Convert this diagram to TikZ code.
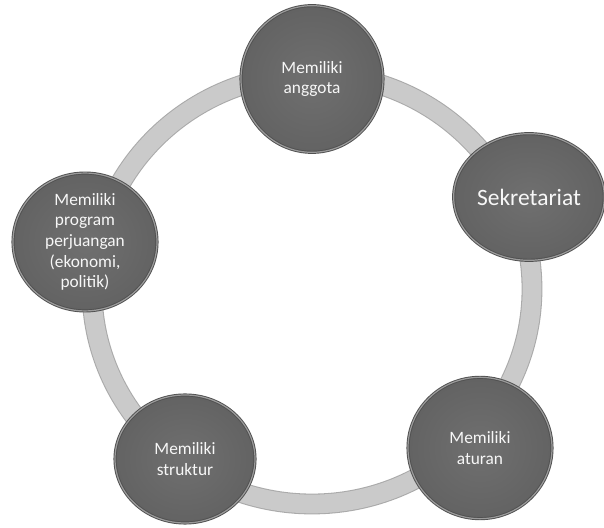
\documentclass[tikz,border=0pt]{standalone}
\usepackage{fontspec}
\setmainfont{Carlito}
\usepackage{xcolor}
\usetikzlibrary{shapes.geometric}

\definecolor{ringfill}{RGB}{202,202,202}
\definecolor{ringedge}{RGB}{170,170,170}
\definecolor{bubblefill}{RGB}{104,104,104}
\definecolor{bubbleedge}{RGB}{80,80,80}
\definecolor{bubblerim}{RGB}{155,155,155}

\begin{document}
\begin{tikzpicture}[x=0.75pt, y=0.75pt,
    bubble/.style={ellipse, inner sep=0pt, align=center, text=white!94!gray,
        inner color=bubblefill!95!white, outer color=bubblefill!95!black,
        draw=bubbleedge, line width=0.7pt, double=bubblerim, double distance=0.9pt,
        font=\fontsize{13}{15.5}\selectfont}]
    \useasboundingbox (0,0) rectangle (604,528);
    % ring behind the bubbles
    \coordinate (hub) at (312,239);
    \draw[ringedge, line width=15.6pt] (hub) ellipse [x radius=220, y radius=215];
    \draw[ringfill, line width=14pt] (hub) ellipse [x radius=220, y radius=215];
    % bubbles
    \node[bubble, minimum width=106.5pt, minimum height=110pt] (anggota) at (312,449) {Memiliki\\anggota};
    \node[bubble, minimum width=113pt, minimum height=95pt,
        font=\fontsize{17.6}{20}\selectfont] (sekretariat) at (529,331) {Sekretariat};
    \node[bubble, minimum width=108pt, minimum height=106pt] (aturan) at (480,80) {Memiliki\\aturan};
    \node[bubble, minimum width=105pt, minimum height=96pt] (struktur) at (185,69) {Memiliki\\struktur};
    \node[bubble, minimum width=108pt, minimum height=95pt] (program) at (85,286)
        {Memiliki\\program\\perjuangan\\(ekonomi,\\politik)};
\end{tikzpicture}
\end{document}
